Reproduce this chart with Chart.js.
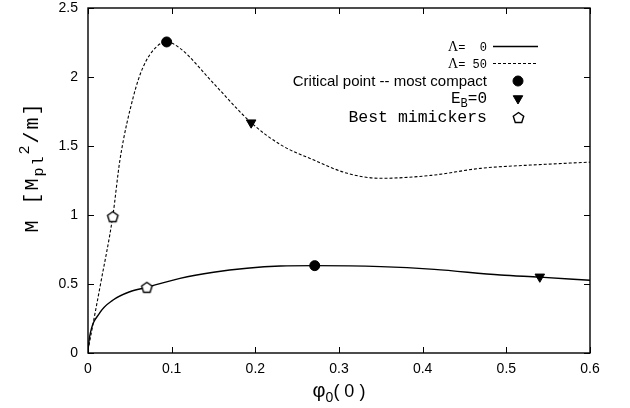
<!DOCTYPE html>
<html>
<head>
<meta charset="utf-8">
<script src="https://cdn.jsdelivr.net/npm/chart.js@4.4.0/dist/chart.umd.min.js"></script>
<style>
    html, body { margin: 0; padding: 0; background: #fff; }
    #wrap { width: 630px; height: 408px; }
</style>
</head>
<body>
<div id="wrap"><canvas id="massChart" width="630" height="408"></canvas></div>
<script>
// axis ticks
const xTicks = [0, 0.1, 0.2, 0.3, 0.4, 0.5, 0.6];
const yTicks = [0, 0.5, 1, 1.5, 2, 2.5];

// Lambda = 0 curve
const lambda0X = [0, 0.002, 0.014, 0.03, 0.05, 0.0703, 0.11, 0.15, 0.19, 0.23, 0.271, 0.35, 0.414, 0.493, 0.54, 0.6];
const lambda0Y = [0.02, 0.12, 0.29, 0.384, 0.444, 0.476, 0.541, 0.585, 0.614, 0.63, 0.633, 0.626, 0.606, 0.565, 0.55, 0.527];

// Lambda = 50 curve
const lambda50X = [0, 0.015, 0.0296, 0.0382, 0.0542, 0.0661, 0.082, 0.094, 0.11, 0.15, 0.195, 0.23, 0.27, 0.31, 0.35, 0.41, 0.469, 0.529, 0.6];
const lambda50Y = [0.02, 0.5, 0.99, 1.4, 1.857, 2.075, 2.22, 2.254, 2.208, 1.954, 1.669, 1.51, 1.398, 1.302, 1.266, 1.287, 1.338, 1.362, 1.383];

// special points
const criticalX = [0.094, 0.271];
const criticalY = [2.254, 0.633];
const ebZeroX = [0.195, 0.540];
const ebZeroY = [1.669, 0.552];
const mimicX = [0.0296, 0.0703];
const mimicY = [0.988, 0.476];

const SANS = "'Liberation Sans', Arial, sans-serif";
const MONO = "'Liberation Mono', 'Courier New', monospace";
const SERIF = "'Liberation Serif', 'Times New Roman', serif";

function toPoints(xs, ys) {
    return xs.map((x, i) => ({ x: x, y: ys[i] }));
}

// open pentagon marker
function makePentagon(r) {
    const c = document.createElement('canvas');
    const size = Math.ceil(r * 2 + 4);
    c.width = size;
    c.height = size;
    const g = c.getContext('2d');
    g.beginPath();
    for (let k = 0; k < 5; k++) {
        const a = -Math.PI / 2 + k * 2 * Math.PI / 5;
        const px = size / 2 + r * Math.cos(a);
        const py = size / 2 + 0.5 + r * Math.sin(a);
        if (k === 0) g.moveTo(px, py); else g.lineTo(px, py);
    }
    g.closePath();
    g.fillStyle = '#fff';
    g.fill();
    g.lineWidth = 1.4;
    g.strokeStyle = '#000';
    g.stroke();
    return c;
}
const pentagon = makePentagon(5.5);

// draw a list of text pieces, aligned at x
function drawRich(ctx, segs, x, y, align) {
    let total = 0;
    segs.forEach(s => { ctx.font = s.font; total += ctx.measureText(s.t).width; });
    let cx = align === 'right' ? x - total : (align === 'center' ? x - total / 2 : x);
    segs.forEach(s => {
        ctx.font = s.font;
        ctx.fillText(s.t, cx, y + (s.dy || 0));
        cx += ctx.measureText(s.t).width;
    });
}

const framePlugin = {
    id: 'frameAndLegend',
    afterDraw(chart) {
        const ctx = chart.ctx;
        const { left, right, top, bottom } = chart.chartArea;
        const xs = chart.scales.x;
        const ys = chart.scales.y;
        ctx.save();
        ctx.strokeStyle = '#000';
        ctx.lineWidth = 1.4;
        ctx.strokeRect(left, top, right - left, bottom - top);

        // inward ticks, mirrored
        ctx.lineWidth = 1;
        ctx.beginPath();
        xTicks.forEach(v => {
            const px = Math.round(xs.getPixelForValue(v)) + 0.5;
            ctx.moveTo(px, bottom); ctx.lineTo(px, bottom - 6);
            ctx.moveTo(px, top); ctx.lineTo(px, top + 6);
        });
        yTicks.forEach(v => {
            const py = Math.round(ys.getPixelForValue(v)) + 0.5;
            ctx.moveTo(left, py); ctx.lineTo(left + 6, py);
            ctx.moveTo(right, py); ctx.lineTo(right - 6, py);
        });
        ctx.stroke();

        ctx.fillStyle = '#000';
        ctx.textBaseline = 'alphabetic';

        // x axis title
        drawRich(ctx, [
            { t: 'φ', font: '20px ' + SANS },
            { t: '0', font: '14px ' + SANS, dy: 5 },
            { t: '( 0 )', font: '18px ' + SANS }
        ], (left + right) / 2, 397, 'center');

        // y axis title, rotated
        ctx.save();
        ctx.translate(38, 167);
        ctx.rotate(-Math.PI / 2);
        ctx.letterSpacing = '2px';
        drawRich(ctx, [
            { t: 'M [M', font: '20px ' + MONO },
            { t: 'pl', font: '15px ' + MONO, dy: 5 },
            { t: '2', font: '15px ' + MONO, dy: -9 },
            { t: '/m]', font: '20px ' + MONO }
        ], 0, 0, 'center');
        ctx.restore();

        // legend
        const tx = 487;
        const rows = [51, 68, 86, 103, 122];
        drawRich(ctx, [
            { t: 'Λ', font: '14px ' + SERIF },
            { t: '=  0', font: '12px ' + MONO }
        ], tx, rows[0], 'right');
        drawRich(ctx, [
            { t: 'Λ', font: '14px ' + SERIF },
            { t: '= 50', font: '12px ' + MONO }
        ], tx, rows[1], 'right');
        drawRich(ctx, [
            { t: 'Critical point -- most compact', font: '15px ' + SANS }
        ], tx, rows[2], 'right');
        drawRich(ctx, [
            { t: 'E', font: '16px ' + MONO },
            { t: 'B', font: '12px ' + MONO, dy: 4 },
            { t: '=0', font: '16px ' + MONO }
        ], tx, rows[3], 'right');
        drawRich(ctx, [
            { t: 'Best mimickers', font: '16.5px ' + MONO }
        ], tx, rows[4], 'right');

        // legend samples
        ctx.lineWidth = 1.4;
        ctx.beginPath();
        ctx.moveTo(493, 46.5); ctx.lineTo(538, 46.5);
        ctx.stroke();
        ctx.setLineDash([3, 2]);
        ctx.lineWidth = 1.1;
        ctx.beginPath();
        ctx.moveTo(493, 63.5); ctx.lineTo(538, 63.5);
        ctx.stroke();
        ctx.setLineDash([]);

        // legend markers
        ctx.lineWidth = 1;
        Chart.helpers.drawPoint(ctx, { pointStyle: 'circle', radius: 5, rotation: 0, borderWidth: 1 }, 518, 81);
        Chart.helpers.drawPoint(ctx, { pointStyle: 'triangle', radius: 5.5, rotation: 180, borderWidth: 1 }, 518, 98.5);
        ctx.drawImage(pentagon, Math.round(518 - pentagon.width / 2), Math.round(117 - pentagon.height / 2));
        ctx.restore();
    }
};

const ctx = document.getElementById('massChart').getContext('2d');

new Chart(ctx, {
    type: 'scatter',
    data: {
        datasets: [
            {
                label: 'Λ= 0',
                data: toPoints(lambda0X, lambda0Y),
                showLine: true,
                borderColor: '#000',
                borderWidth: 1.4,
                pointRadius: 0,
                cubicInterpolationMode: 'monotone',
                order: 5
            },
            {
                label: 'Λ= 50',
                data: toPoints(lambda50X, lambda50Y),
                showLine: true,
                borderColor: '#000',
                borderWidth: 1.1,
                borderDash: [3, 2],
                pointRadius: 0,
                cubicInterpolationMode: 'monotone',
                order: 4
            },
            {
                label: 'Critical point -- most compact',
                data: toPoints(criticalX, criticalY),
                pointStyle: 'circle',
                pointRadius: 5,
                backgroundColor: '#000',
                borderColor: '#000',
                order: 1
            },
            {
                label: 'E_B=0',
                data: toPoints(ebZeroX, ebZeroY),
                pointStyle: 'triangle',
                rotation: 180,
                pointRadius: 5.5,
                backgroundColor: '#000',
                borderColor: '#000',
                order: 2
            },
            {
                label: 'Best mimickers',
                data: toPoints(mimicX, mimicY),
                pointStyle: pentagon,
                order: 3
            }
        ]
    },
    options: {
        responsive: false,
        animation: false,
        devicePixelRatio: 1,
        layout: { padding: { top: 8, right: 40, left: 0, bottom: 0 } },
        plugins: {
            legend: { display: false },
            tooltip: { enabled: false }
        },
        scales: {
            x: {
                type: 'linear',
                min: 0,
                max: 0.6,
                afterBuildTicks: s => { s.ticks = xTicks.map(v => ({ value: v })); },
                afterFit: s => {
                    s.height = 55;
                    s.paddingLeft = 0;
                    s.paddingRight = 0;
                },
                grid: { display: false, drawTicks: false },
                border: { display: false },
                ticks: {
                    padding: 8,
                    color: '#000',
                    font: { family: SANS, size: 14 },
                    callback: v => String(Math.round(v * 10) / 10)
                }
            },
            y: {
                type: 'linear',
                min: 0,
                max: 2.5,
                afterBuildTicks: s => { s.ticks = yTicks.map(v => ({ value: v })); },
                afterFit: s => {
                    s.width = 88;
                    s.paddingTop = 0;
                    s.paddingBottom = 0;
                },
                grid: { display: false, drawTicks: false },
                border: { display: false },
                ticks: {
                    padding: 10,
                    color: '#000',
                    font: { family: SANS, size: 14 },
                    callback: v => String(Math.round(v * 10) / 10)
                }
            }
        }
    },
    plugins: [framePlugin]
});
</script>
</body>
</html>
